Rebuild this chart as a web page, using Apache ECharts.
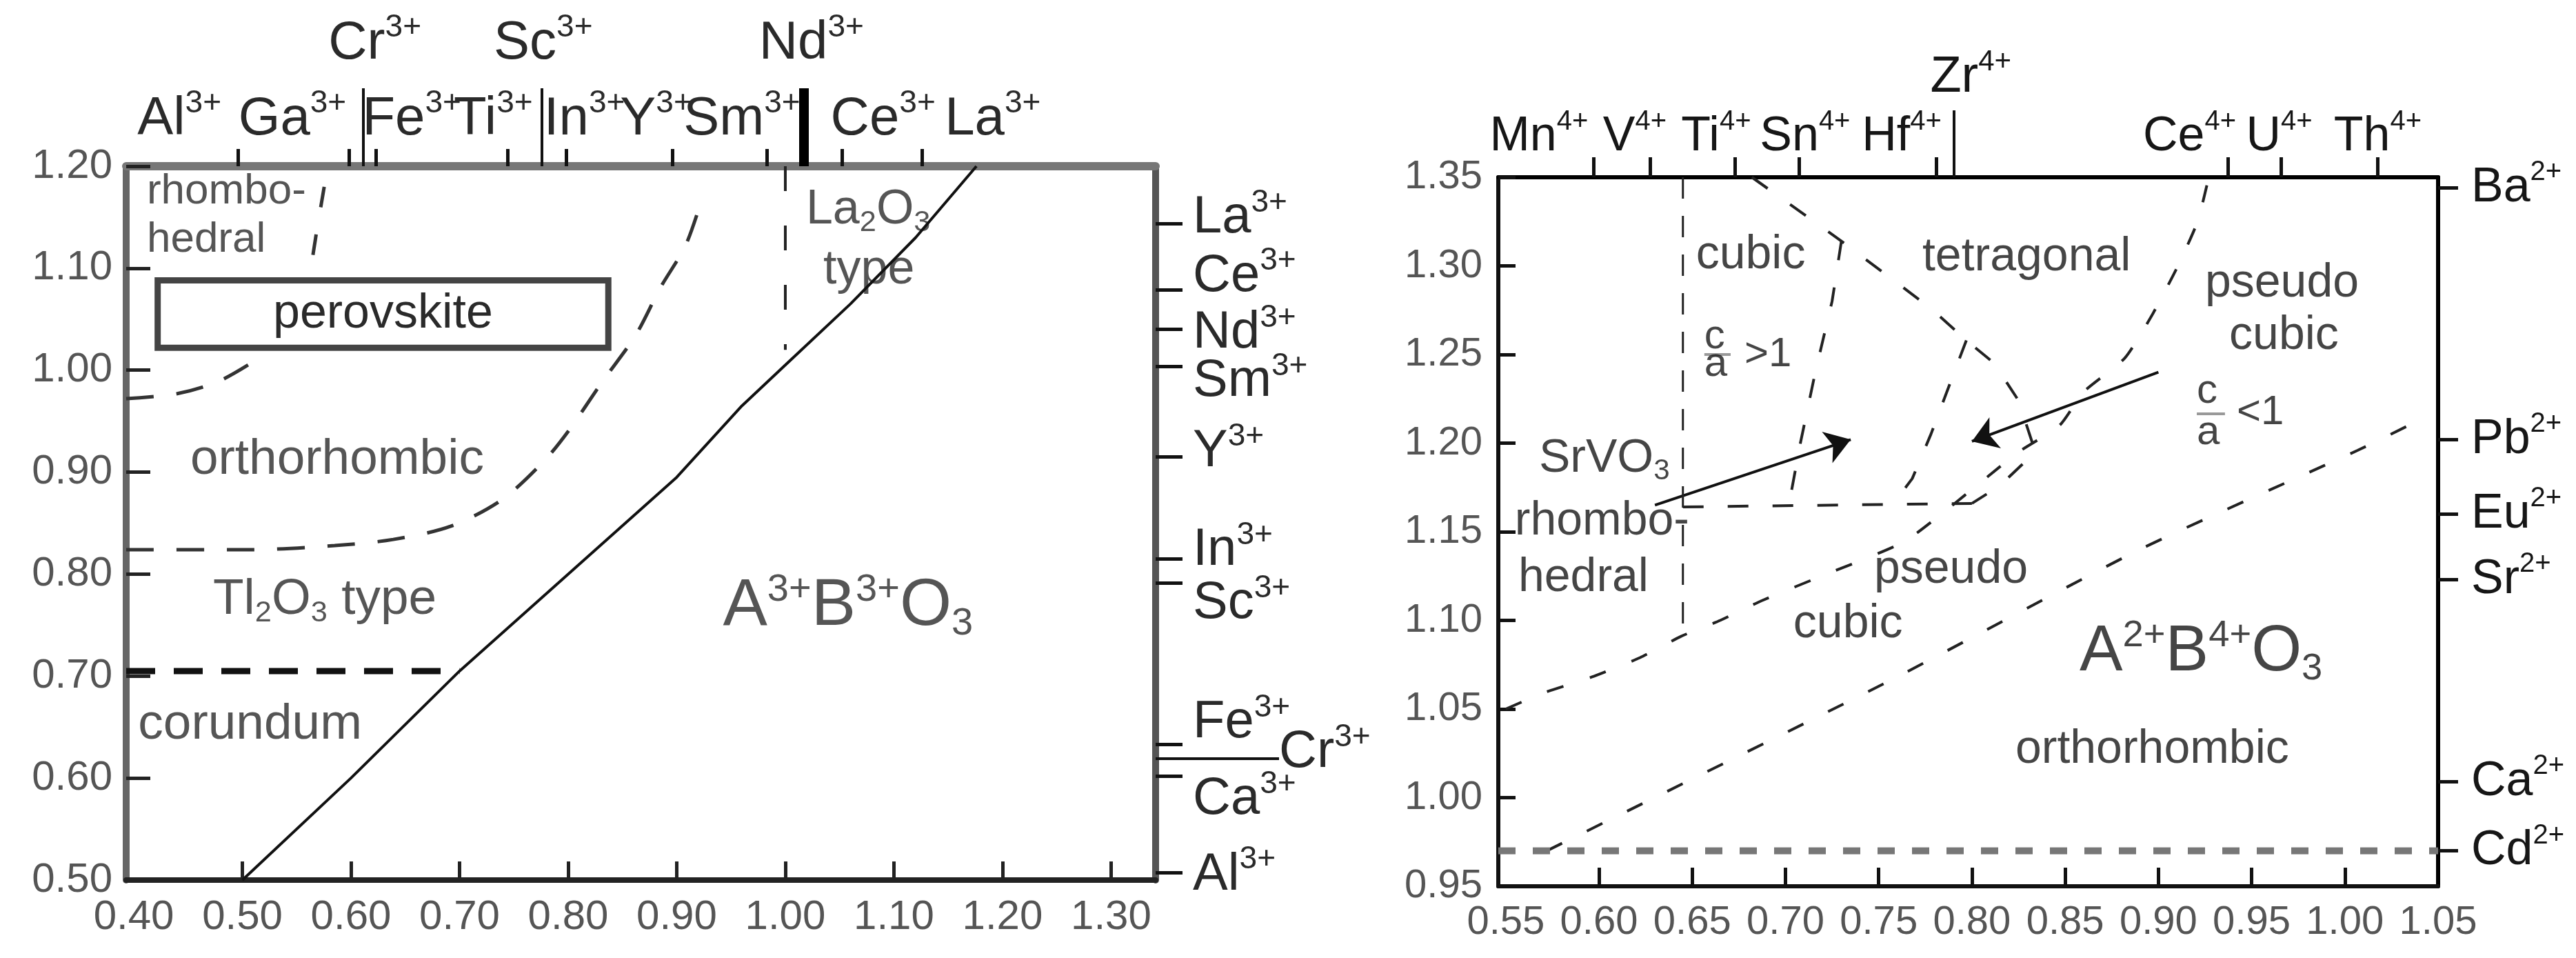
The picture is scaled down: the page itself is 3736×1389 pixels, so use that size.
<!DOCTYPE html>
<html>
<head>
<meta charset="utf-8">
<script src="https://cdn.jsdelivr.net/npm/echarts@6/dist/echarts.min.js"></script>
<style>
html,body{margin:0;padding:0;background:#fff}
#chart{width:3736px;height:1389px}
</style>
</head>
<body>
<div id="chart"></div>
<script>
var FONT = 'Liberation Sans, Arial, sans-serif';

// ---------- left map: A3+ B3+ O3 ----------
var lxLabels = [0.40, 0.50, 0.60, 0.70, 0.80, 0.90, 1.00, 1.10, 1.20, 1.30];
var lTopIons = ['Al', 'Ga', 'Fe', 'Ti', 'In', 'Y', 'Sm', 'Ce', 'La'];
var lTopIonsAt = [0.442, 0.546, 0.656, 0.731, 0.815, 0.881, 0.960, 1.090, 1.191];
var lTopTicks = [0.496, 0.598, 0.623, 0.744, 0.798, 0.896, 0.983, 1.052, 1.126];
var lTopIons2 = ['Cr', 'Sc', 'Nd'];
var lTopIons2At = [0.622, 0.777, 1.024];
var lTopLong = [0.611, 0.776];
var lTopThick = [1.017];
var lRightIons = ['La', 'Ce', 'Nd', 'Sm', 'Y', 'In', 'Sc', 'Fe', 'Ca', 'Al'];
var lRightIonsAt = [1.149, 1.092, 1.036, 0.989, 0.920, 0.823, 0.771, 0.654, 0.579, 0.505];
var lRightTicks = [1.144, 1.079, 1.040, 1.004, 0.915, 0.815, 0.791, 0.633, 0.602, 0.507];
var lRightLongIon = ['Cr'];
var lRightLongAt = [0.625];
var lRightLong = [0.619];

var laBoundary = [[0.50, 0.50], [0.60, 0.60], [0.70, 0.705], [0.80, 0.80], [0.90, 0.895], [0.96, 0.965], [1.00, 1.005], [1.06, 1.065], [1.12, 1.13], [1.176, 1.20]];
var orthoBoundary = [[0.393, 0.824], [0.508, 0.824], [0.585, 0.828], [0.639, 0.834], [0.692, 0.847], [0.739, 0.873], [0.777, 0.91], [0.80, 0.94], [0.831, 0.988], [0.862, 1.034], [0.885, 1.081], [0.908, 1.122], [0.922, 1.164]];
var rhomboLow = [[0.393, 0.972], [0.44, 0.977], [0.48, 0.99], [0.52, 1.015]];
var rhomboHigh = [[0.565, 1.113], [0.569, 1.14], [0.573, 1.165], [0.577, 1.19]];
var la2o3Edge = [[1.00, 1.20], [1.00, 1.02]];
var corundumEdge = [[0.393, 0.705], [0.70, 0.705]];
var perovskiteBox = [[0.422, 1.088], [0.837, 1.022]];
var leftNotes = [
  [0.412, 1.175, '{u|rhombo-}'],
  [0.412, 1.128, '{u|hedral}'],
  [1.019, 1.157, '{t|La}{b|2}{t|O}{b|3}'],
  [1.035, 1.098, '{t|type}'],
  [0.452, 0.912, '{w|orthorhombic}'],
  [0.473, 0.775, '{w|Tl}{b|2}{w|O}{b|3}{w| type}'],
  [0.404, 0.652, '{w|corundum}'],
  [0.9425, 0.768, '{f|A}{fs|3+}{f|B}{fs|3+}{f|O}{fb|3}']
];

// ---------- right map: A2+ B4+ O3 ----------
var rxLabels = [0.55, 0.60, 0.65, 0.70, 0.75, 0.80, 0.85, 0.90, 0.95, 1.00, 1.05];
var rxTicks = [0.60, 0.65, 0.70, 0.75, 0.80, 0.85, 0.90, 0.95, 1.00];
var rTopIons = ['Mn', 'V', 'Ti', 'Sn', 'Hf', 'Ce', 'U', 'Th'];
var rTopIonsAt = [0.5678, 0.6192, 0.6628, 0.7105, 0.7623, 0.9167, 0.9648, 1.0176];
var rTopTicks = [0.5973, 0.6273, 0.6728, 0.7072, 0.7808, 0.9372, 0.9657, 1.0175];
var rTopIons2 = ['Zr'];
var rTopIons2At = [0.7994];
var rTopLong = [0.7904];
var rRightIons = ['Ba', 'Pb', 'Eu', 'Sr', 'Ca', 'Cd'];
var rRightIonsAt = [1.344, 1.202, 1.160, 1.123, 1.009, 0.970];

var cubicEdge = [[0.645, 1.35], [0.645, 1.09]];
var tetraEdge = [[0.682, 1.35], [0.73, 1.314], [0.778, 1.276], [0.797, 1.258], [0.812, 1.245], [0.825, 1.224], [0.834, 1.195], [0.815, 1.176], [0.80, 1.166]];
var caEdge = [[0.73, 1.314], [0.725, 1.28], [0.716, 1.24], [0.708, 1.20], [0.702, 1.166]];
var tetraLow = [[0.797, 1.258], [0.788, 1.233], [0.778, 1.205], [0.768, 1.18], [0.758, 1.166]];
var rhomboTop = [[0.645, 1.164], [0.80, 1.166]];
var pseudoEdge = [[0.55, 1.05], [0.57, 1.059], [0.596, 1.068], [0.622, 1.079], [0.644, 1.091], [0.665, 1.10], [0.687, 1.111], [0.717, 1.124], [0.763, 1.144], [0.786, 1.162], [0.806, 1.179], [0.825, 1.195], [0.847, 1.21], [0.86, 1.229], [0.882, 1.248], [0.897, 1.273], [0.91, 1.299], [0.921, 1.325], [0.927, 1.35]];
var orthoEdge = [[0.572, 0.97], [0.756, 1.066], [0.89, 1.14], [1.007, 1.196], [1.04, 1.213]];
var cdLine = [[0.546, 0.97], [1.05, 0.97]];
var arrows = [[[0.63, 1.165], [0.735, 1.202]], [[0.90, 1.24], [0.80, 1.201]]];
var fracBars = [[[0.6565, 1.2502], [0.6706, 1.2502]], [[0.9206, 1.2166], [0.9357, 1.2166]]];
var rightNotes = [
  [0.652, 1.306, '{t|cubic}'],
  [0.7734, 1.3048, '{t|tetragonal}'],
  [0.925, 1.29, '{t|pseudo}'],
  [0.938, 1.2604, '{t|cubic}'],
  [0.6565, 1.26, '{c|c}'],
  [0.6565, 1.2445, '{c|a}'],
  [0.678, 1.2498, '{c|>1}'],
  [0.9206, 1.2293, '{c|c}'],
  [0.9206, 1.206, '{c|a}'],
  [0.942, 1.2172, '{c|<1}'],
  [0.5678, 1.1911, '{t|SrVO}{b|3}'],
  [0.5548, 1.1557, '{t|rhombo-}'],
  [0.5567, 1.1238, '{t|hedral}'],
  [0.7475, 1.1284, '{t|pseudo}'],
  [0.7042, 1.0977, '{t|cubic}'],
  [0.8577, 1.082, '{f|A}{fs|2+}{f|B}{fs|4+}{f|O}{fb|3}'],
  [0.8233, 1.0268, '{t|orthorhombic}']
];

function nearest(arr, v) {
  var best = 0;
  for (var i = 1; i < arr.length; i++) {
    if (Math.abs(arr[i] - v) < Math.abs(arr[best] - v)) best = i;
  }
  return best;
}
function ionLabel(names, at, charge) {
  return function (v) {
    return '{m|' + names[nearest(at, v)] + '}{s|' + charge + '}';
  };
}
function ionRich(color, size, supSize) {
  return {
    m: {fontSize: size, lineHeight: size + 14, color: color, fontFamily: FONT},
    s: {fontSize: supSize, lineHeight: supSize - 4, verticalAlign: 'top', color: color, fontFamily: FONT}
  };
}
function noteRich(color, size) {
  return {
    t: {fontSize: size, lineHeight: size + 10, color: color, fontFamily: FONT},
    u: {fontSize: size - 8, lineHeight: size, color: color, fontFamily: FONT},
    w: {fontSize: size + 3, lineHeight: size + 12, color: color, fontFamily: FONT},
    b: {fontSize: size * 0.62, lineHeight: size * 0.6, verticalAlign: 'bottom', color: color, fontFamily: FONT},
    c: {fontSize: 60, lineHeight: 60, color: color, fontFamily: FONT},
    f: {fontSize: size * 1.38, lineHeight: size * 1.5, color: color, fontFamily: FONT},
    fs: {fontSize: size * 0.8, lineHeight: size * 0.75, verticalAlign: 'top', color: color, fontFamily: FONT},
    fb: {fontSize: size * 0.8, lineHeight: size * 0.75, verticalAlign: 'bottom', color: color, fontFamily: FONT}
  };
}

var lColor = '#2a2a2a', rColor = '#161616';
var noHide = {show: false};

function dashed(name, data, xi, yi, width, dash, color, smooth) {
  return {
    name: name, type: 'line', xAxisIndex: xi, yAxisIndex: yi, data: data,
    symbol: 'none', smooth: smooth || false, silent: true, animation: false,
    lineStyle: {color: color || '#222', width: width, type: dash}
  };
}

var option = {
  animation: false,
  backgroundColor: '#fff',
  grid: [
    {left: 183, top: 241, width: 1493, height: 1035},
    {left: 2173, top: 257, width: 1363, height: 1028}
  ],
  xAxis: [
    // 0 left bottom
    {gridIndex: 0, type: 'value', position: 'bottom', min: 0.393, max: 1.341,
      axisLine: {lineStyle: {color: '#222', width: 8}},
      axisTick: {inside: true, length: 27, customValues: lxLabels.slice(1), lineStyle: {color: '#222', width: 5}},
      axisLabel: {customValues: lxLabels, margin: 24, fontSize: 60, color: '#555', fontFamily: FONT,
        formatter: function (v) { return v.toFixed(2); }},
      splitLine: noHide},
    // 1 left top, short ticks + lower ion row
    {gridIndex: 0, type: 'value', position: 'top', min: 0.393, max: 1.341,
      axisLine: {lineStyle: {color: '#777', width: 12}},
      axisTick: {inside: false, length: 25, customValues: lTopTicks, lineStyle: {color: '#111', width: 5}},
      axisLabel: {customValues: lTopIonsAt, margin: 22, formatter: ionLabel(lTopIons, lTopIonsAt, '3+'), rich: ionRich(lColor, 78, 46)},
      splitLine: noHide},
    // 2 left top, long marks + upper ion row
    {gridIndex: 0, type: 'value', position: 'top', min: 0.393, max: 1.341,
      axisLine: noHide,
      axisTick: {show: true, inside: false, length: 113, customValues: lTopLong, lineStyle: {color: '#111', width: 4}},
      axisLabel: {customValues: lTopIons2At, margin: 132, formatter: ionLabel(lTopIons2, lTopIons2At, '3+'), rich: ionRich(lColor, 78, 46)},
      splitLine: noHide},
    // 3 left top, thick Nd mark
    {gridIndex: 0, type: 'value', position: 'top', min: 0.393, max: 1.341,
      axisLine: noHide,
      axisTick: {show: true, inside: false, length: 113, customValues: lTopThick, lineStyle: {color: '#000', width: 14}},
      axisLabel: noHide, splitLine: noHide},
    // 4 right bottom
    {gridIndex: 1, type: 'value', position: 'bottom', min: 0.546, max: 1.05,
      axisLine: {lineStyle: {color: '#111', width: 6}},
      axisTick: {inside: true, length: 27, customValues: rxTicks, lineStyle: {color: '#111', width: 5}},
      axisLabel: {customValues: rxLabels, margin: 24, fontSize: 58, color: '#555', fontFamily: FONT,
        formatter: function (v) { return v.toFixed(2); }},
      splitLine: noHide},
    // 5 right top, short ticks + ion row
    {gridIndex: 1, type: 'value', position: 'top', min: 0.546, max: 1.05,
      axisLine: {lineStyle: {color: '#000', width: 6}},
      axisTick: {inside: false, length: 29, customValues: rTopTicks, lineStyle: {color: '#111', width: 5}},
      axisLabel: {customValues: rTopIonsAt, margin: 16, formatter: ionLabel(rTopIons, rTopIonsAt, '4+'), rich: ionRich(rColor, 70, 40)},
      splitLine: noHide},
    // 6 right top, Zr mark
    {gridIndex: 1, type: 'value', position: 'top', min: 0.546, max: 1.05,
      axisLine: noHide,
      axisTick: {show: true, inside: false, length: 97, customValues: rTopLong, lineStyle: {color: '#111', width: 4}},
      axisLabel: {customValues: rTopIons2At, margin: 100, formatter: ionLabel(rTopIons2, rTopIons2At, '4+'), rich: ionRich(rColor, 74, 42)},
      splitLine: noHide}
  ],
  yAxis: [
    // 0 left left
    {gridIndex: 0, type: 'value', position: 'left', min: 0.5, max: 1.2, interval: 0.1,
      axisLine: {show: true, lineStyle: {color: '#666', width: 10}},
      axisTick: {show: true, inside: true, length: 35, lineStyle: {color: '#222', width: 5}},
      axisLabel: {margin: 20, fontSize: 60, color: '#555', fontFamily: FONT, formatter: function (v) { return v.toFixed(2); }},
      splitLine: noHide},
    // 1 left right, ions
    {gridIndex: 0, type: 'value', position: 'right', min: 0.5, max: 1.2,
      axisLine: {show: true, lineStyle: {color: '#555', width: 10}},
      axisTick: {show: true, inside: false, length: 39, customValues: lRightTicks, lineStyle: {color: '#111', width: 5}},
      axisLabel: {customValues: lRightIonsAt, margin: 54, formatter: ionLabel(lRightIons, lRightIonsAt, '3+'), rich: ionRich(lColor, 76, 46)},
      splitLine: noHide},
    // 2 left right, Cr long mark
    {gridIndex: 0, type: 'value', position: 'right', min: 0.5, max: 1.2,
      axisLine: noHide,
      axisTick: {show: true, inside: false, length: 179, customValues: lRightLong, lineStyle: {color: '#111', width: 4}},
      axisLabel: {customValues: lRightLongAt, margin: 179, formatter: ionLabel(lRightLongIon, lRightLongAt, '3+'), rich: ionRich(lColor, 76, 46)},
      splitLine: noHide},
    // 3 right left
    {gridIndex: 1, type: 'value', position: 'left', min: 0.95, max: 1.35, interval: 0.05,
      axisLine: {show: true, lineStyle: {color: '#111', width: 6}},
      axisTick: {show: true, inside: true, length: 25, lineStyle: {color: '#111', width: 5}},
      axisLabel: {margin: 23, fontSize: 58, color: '#555', fontFamily: FONT, formatter: function (v) { return v.toFixed(2); }},
      splitLine: noHide},
    // 4 right right, ions
    {gridIndex: 1, type: 'value', position: 'right', min: 0.95, max: 1.35,
      axisLine: {show: true, lineStyle: {color: '#000', width: 6}},
      axisTick: {show: true, inside: false, length: 29, customValues: rRightIonsAt, lineStyle: {color: '#111', width: 5}},
      axisLabel: {customValues: rRightIonsAt, margin: 48, formatter: ionLabel(rRightIons, rRightIonsAt, '2+'), rich: ionRich(rColor, 70, 40)},
      splitLine: noHide}
  ],
  series: [
    {name: 'La2O3 boundary', type: 'line', xAxisIndex: 0, yAxisIndex: 0, data: laBoundary, symbol: 'none',
      lineStyle: {color: '#111', width: 4}, silent: true},
    dashed('ortho', orthoBoundary, 0, 0, 5, [40, 33], '#333', 0.3),
    dashed('rhombo low', rhomboLow, 0, 0, 5, [40, 33], '#333', 0.3),
    dashed('rhombo high', rhomboHigh, 0, 0, 5, [30, 40], '#333', 0.3),
    dashed('la2o3 edge', la2o3Edge, 0, 0, 4, [36, 50], '#222'),
    dashed('corundum', corundumEdge, 0, 0, 9, [42, 27], '#111'),
    {name: 'perovskite', type: 'line', xAxisIndex: 0, yAxisIndex: 0, data: [], silent: true,
      markArea: {silent: true,
        itemStyle: {color: '#fff', borderColor: '#444', borderWidth: 9},
        label: {show: true, position: 'inside', formatter: 'perovskite', fontSize: 70, color: lColor, fontFamily: FONT},
        data: [[{coord: perovskiteBox[0]}, {coord: perovskiteBox[1]}]]}},
    {name: 'left notes', type: 'scatter', xAxisIndex: 0, yAxisIndex: 0, data: leftNotes, symbolSize: 0, silent: true,
      label: {show: true, position: 'right', distance: 0, formatter: function (p) { return p.data[2]; }, rich: noteRich(lColor, 70)}},

    dashed('cubic edge', cubicEdge, 4, 3, 3, [31, 25], '#222'),
    dashed('tetra edge', tetraEdge, 4, 3, 4, [28, 40], '#222'),
    dashed('c/a edge', caEdge, 4, 3, 4, [28, 40], '#222'),
    dashed('tetra low', tetraLow, 4, 3, 4, [28, 40], '#222'),
    dashed('rhombo top', rhomboTop, 4, 3, 4, [30, 35], '#222'),
    dashed('pseudo edge', pseudoEdge, 4, 3, 4, [25, 40], '#222', 0.2),
    dashed('ortho edge', orthoEdge, 4, 3, 4, [25, 40], '#222', 0.2),
    dashed('Cd', cdLine, 4, 3, 10, [25, 25], '#777'),
    {name: 'arrows', type: 'lines', coordinateSystem: 'cartesian2d', xAxisIndex: 4, yAxisIndex: 3, silent: true,
      symbol: ['none', 'arrow'], symbolSize: 36,
      lineStyle: {color: '#111', width: 4, opacity: 1},
      data: arrows.map(function (a) { return {coords: a}; })},
    {name: 'fraction bars', type: 'lines', coordinateSystem: 'cartesian2d', xAxisIndex: 4, yAxisIndex: 3, silent: true,
      lineStyle: {color: '#999', width: 4, opacity: 1},
      data: fracBars.map(function (a) { return {coords: a}; })},
    {name: 'right notes', type: 'scatter', xAxisIndex: 4, yAxisIndex: 3, data: rightNotes, symbolSize: 0, silent: true,
      label: {show: true, position: 'right', distance: 0, formatter: function (p) { return p.data[2]; }, rich: noteRich(rColor, 68)}}
  ]
};

var myChart = echarts.init(document.getElementById('chart'), null, {renderer: 'canvas'});
myChart.setOption(option);
</script>
</body>
</html>
